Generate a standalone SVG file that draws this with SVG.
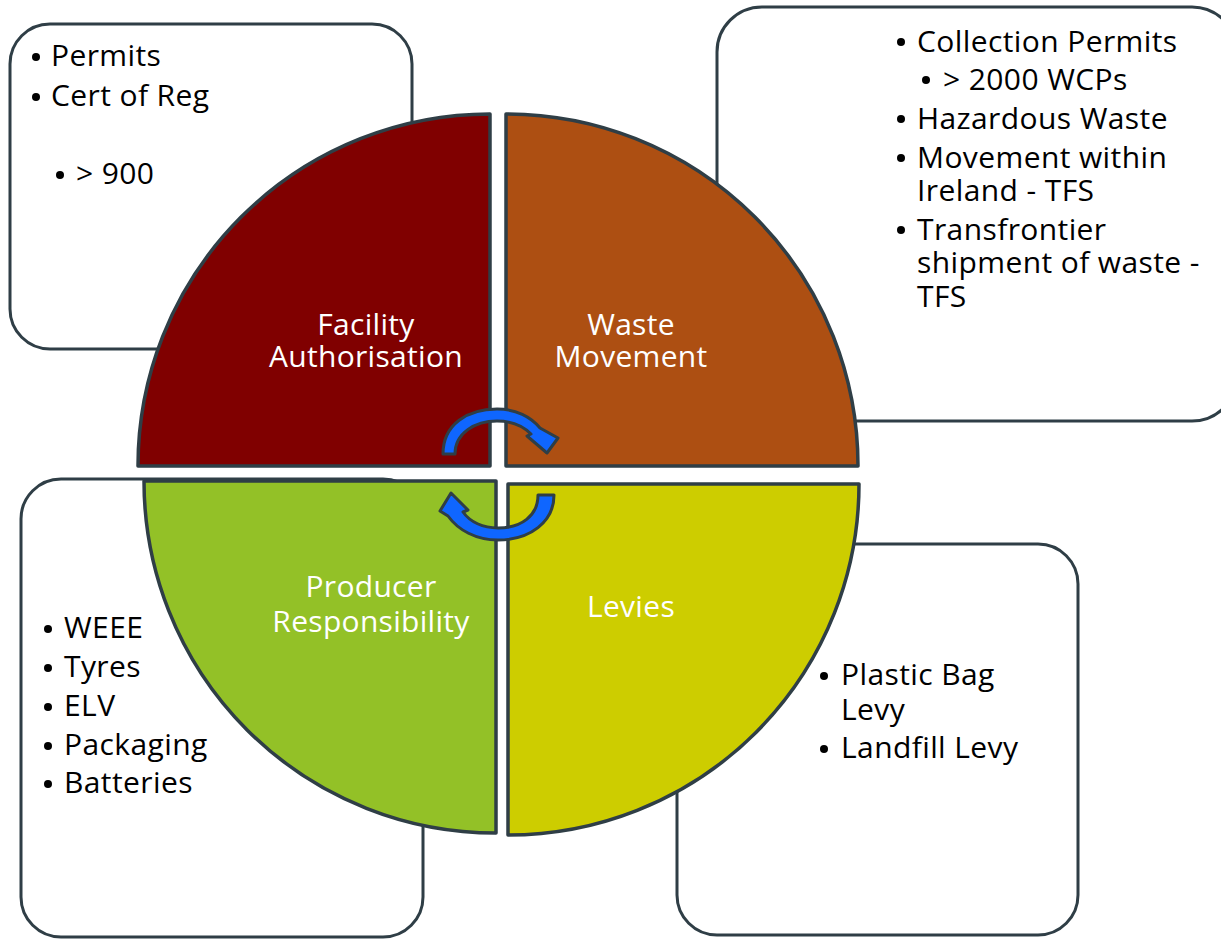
<svg xmlns="http://www.w3.org/2000/svg" width="1221" height="939" viewBox="0 0 1221 939">
<style>
.box{fill:#ffffff;stroke:#2F3E46;stroke-width:3}
.q{stroke:#2F3E46;stroke-width:3.5;stroke-linejoin:round}
.t{font-family:"Open Sans","Liberation Sans",sans-serif;font-size:30px;letter-spacing:0.4px;fill:#000000}
.w{font-family:"Open Sans","Liberation Sans",sans-serif;font-size:30px;letter-spacing:0.3px;fill:#ffffff;text-anchor:middle}
.arr{fill:#0F66FF;stroke:#2F3E46;stroke-width:3;stroke-linejoin:round}
.b{fill:#000000}
</style>
<rect width="1221" height="939" fill="#ffffff"/>
<g id="box-facility">
<rect class="box" x="10" y="24" width="402" height="325" rx="40"/>
<text class="t" x="51" y="66">Permits</text>
<text class="t" x="51" y="106">Cert of Reg</text>
<text class="t" x="76" y="184">&gt; 900</text>
<circle class="b" cx="36" cy="57" r="4"/><circle class="b" cx="36" cy="97" r="4"/><circle class="b" cx="60" cy="175" r="4"/>
</g>
<g id="box-waste">
<rect class="box" x="717" y="7" width="520" height="414" rx="45"/>
<text class="t" x="917" y="52">Collection Permits</text>
<text class="t" x="943" y="90">&gt; 2000 WCPs</text>
<text class="t" x="917" y="129">Hazardous Waste</text>
<text class="t" x="917" y="168">Movement within</text>
<text class="t" x="917" y="201">Ireland - TFS</text>
<text class="t" x="917" y="240">Transfrontier</text>
<text class="t" x="917" y="273">shipment of waste -</text>
<text class="t" x="917" y="307">TFS</text>
<circle class="b" cx="901" cy="42" r="4"/><circle class="b" cx="926" cy="80" r="4"/><circle class="b" cx="901" cy="119" r="4"/><circle class="b" cx="901" cy="158" r="4"/><circle class="b" cx="901" cy="230" r="4"/>
</g>
<g id="box-producer">
<rect class="box" x="21" y="479" width="402" height="458" rx="40"/>
<text class="t" x="64" y="638">WEEE</text>
<text class="t" x="64" y="677">Tyres</text>
<text class="t" x="64" y="716">ELV</text>
<text class="t" x="64" y="755">Packaging</text>
<text class="t" x="64" y="793">Batteries</text>
<circle class="b" cx="48" cy="629" r="4"/><circle class="b" cx="48" cy="668" r="4"/><circle class="b" cx="48" cy="707" r="4"/><circle class="b" cx="48" cy="746" r="4"/><circle class="b" cx="48" cy="784" r="4"/>
</g>
<g id="box-levies">
<rect class="box" x="677" y="544" width="401" height="391" rx="40"/>
<text class="t" x="841" y="685">Plastic Bag</text>
<text class="t" x="841" y="720">Levy</text>
<text class="t" x="841" y="758">Landfill Levy</text>
<circle class="b" cx="824" cy="676" r="4"/><circle class="b" cx="824" cy="749" r="4"/>
</g>
<g id="q-facility">
<path class="q" fill="#800000" d="M490 466 L138 466 A352 352 0 0 1 490 114 Z"/>
<text class="w" x="366" y="335">Facility</text>
<text class="w" x="366" y="367">Authorisation</text>
</g>
<g id="q-waste">
<path class="q" fill="#AD4F12" d="M506 466 L506 114 A352 352 0 0 1 858 466 Z"/>
<text class="w" x="631" y="335">Waste</text>
<text class="w" x="631" y="367">Movement</text>
</g>
<g id="q-producer">
<path class="q" fill="#93C127" d="M496 481 L496 833 A352 352 0 0 1 144 481 Z"/>
<text class="w" x="371" y="597">Producer</text>
<text class="w" x="371" y="632">Responsibility</text>
</g>
<g id="q-levies">
<path class="q" fill="#CDCD00" d="M508 484 L859 484 A351 351 0 0 1 508 835 Z"/>
<text class="w" x="631" y="617">Levies</text>
</g>
<g id="connectors">
<path class="arr" d="M443 454 C443 424 468 409 497 409 C516 409 531 417 540 428 L558 438 L547 453 L527 436 L531 434 C523 426 511 421 497 421 C475 421 455 433 455 454 Z"/>
<path class="arr" d="M554 495 C554 522 530 540 498 540 C476 540 458 530 448 516 L440 511 L451 493 L468 510 L463 512 C470 522 483 528 498 528 C521 528 538 516 538 495 Z"/>
</g>
</svg>
